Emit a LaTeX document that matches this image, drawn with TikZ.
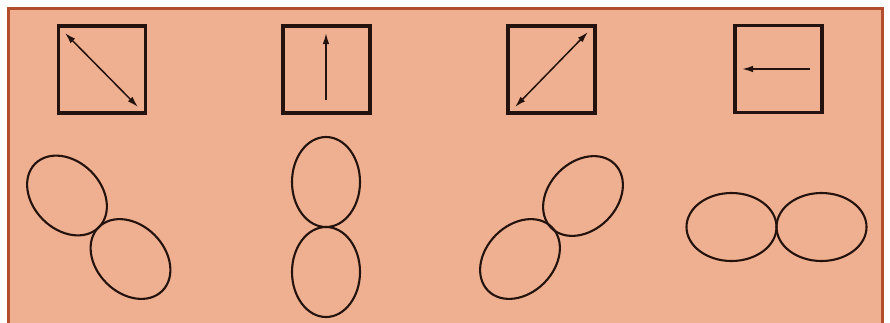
\documentclass[tikz,border=0pt]{standalone}
\usetikzlibrary{shapes.geometric,arrows.meta}
\definecolor{paper}{RGB}{238,176,144}
\definecolor{rim}{RGB}{178,78,46}
\definecolor{ink}{RGB}{36,18,14}
\tikzset{
  panel/.style={fill=paper,draw=rim,line width=3.2pt},
  framebox/.style={draw=ink,line width=3.2pt,minimum size=87pt,inner sep=0pt},
  vec/.style={draw=ink,line width=1.5pt},
  tipA/.style={-{Latex[length=11pt,width=6.5pt]}},
  tipB/.style={{Latex[length=11pt,width=6.5pt]}-{Latex[length=11pt,width=6.5pt]}},
  lobe/.style={ellipse,draw=ink,line width=2.1pt,minimum width=90pt,minimum height=68pt,inner sep=0pt}
}
\begin{document}
\begin{tikzpicture}[x=1pt,y=-1pt]
\useasboundingbox (0,0) rectangle (890,322);
\fill[white] (0,0) rectangle (890,322);
\draw[panel] (8.5,8.5) rectangle (882.5,326);
% boxes
\node[framebox] (b1) at (102,69.5) {};
\node[framebox] (b2) at (326.5,69.5) {};
\node[framebox] (b3) at (551.5,69.5) {};
\node[framebox] (b4) at (778.5,69) {};
% arrow end points
\coordinate (p1a) at (65,33);
\coordinate (p1b) at (138,107);
\coordinate (p2a) at (326,100);
\coordinate (p2b) at (326,33);
\coordinate (p3a) at (588,32);
\coordinate (p3b) at (515,107);
\coordinate (p4a) at (810,69);
\coordinate (p4b) at (742,69);
\draw[vec,tipB] (p1a) -- (p1b);
\draw[vec,tipA] (p2a) -- (p2b);
\draw[vec,tipB] (p3a) -- (p3b);
\draw[vec,tipA] (p4a) -- (p4b);
% lobes
\node[lobe,rotate=-45] (e1a) at (67,195.5) {};
\node[lobe,rotate=-45] (e1b) at (130.5,259) {};
\node[lobe,rotate=90] (e2a) at (326,182) {};
\node[lobe,rotate=90] (e2b) at (326,272) {};
\node[lobe,rotate=45] (e3a) at (583,196) {};
\node[lobe,rotate=45] (e3b) at (520,259) {};
\node[lobe] (e4a) at (731.5,227) {};
\node[lobe] (e4b) at (821.5,227) {};
\end{tikzpicture}
\end{document}
